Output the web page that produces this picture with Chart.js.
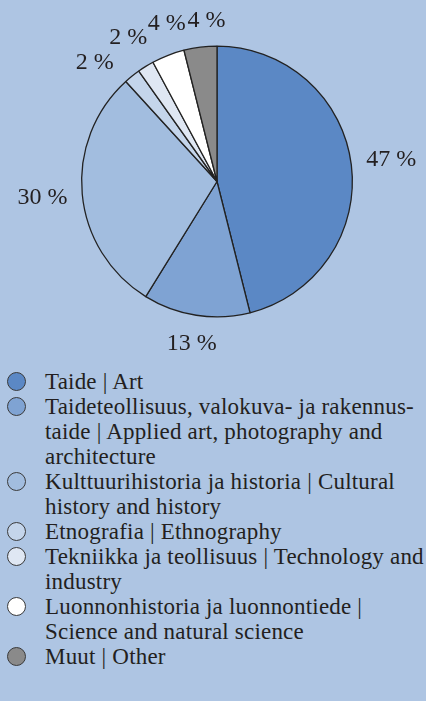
<!DOCTYPE html>
<html>
<head>
<meta charset="utf-8">
<script src="https://cdn.jsdelivr.net/npm/chart.js@4/dist/chart.umd.min.js"></script>
<style>
  html, body { margin: 0; padding: 0; background: #aec5e3; }
  body { width: 426px; height: 701px; overflow: hidden; position: relative; font-family: "Liberation Serif", "Times New Roman", serif; }
  #wrap { position: absolute; left: 0; top: 0; width: 426px; height: 365px; }
  #legend { position: absolute; left: 0; top: 369px; width: 440px; margin: 0; padding: 0; list-style: none; }
  #legend li { position: relative; padding-left: 45px; font-size: 23px; letter-spacing: 0.2px; line-height: 25px; color: #231f20; white-space: nowrap; }
  #legend .mk { position: absolute; left: 7px; top: 3px; width: 19px; height: 19px; border-radius: 50%; border: 1.2px solid #3a3a3a; box-sizing: border-box; }
</style>
</head>
<body>
<div id="wrap"><canvas id="c"></canvas></div>
<ul id="legend"></ul>
<script>
const categories = [
  ["Taide | Art"],
  ["Taideteollisuus, valokuva- ja rakennus-", "taide | Applied art, photography and", "architecture"],
  ["Kulttuurihistoria ja historia | Cultural", "history and history"],
  ["Etnografia | Ethnography"],
  ["Tekniikka ja teollisuus | Technology and", "industry"],
  ["Luonnonhistoria ja luonnontiede |", "Science and natural science"],
  ["Muut | Other"]
];
const values = [47, 13, 30, 2, 2, 4, 4];
const valueLabels = ["47 %", "13 %", "30 %", "2 %", "2 %", "4 %", "4 %"];
const colors = ["#5b88c5", "#7fa3d3", "#a2bddf", "#c4d5eb", "#dfe7f3", "#ffffff", "#8a8a8a"];

const outsideLabels = {
  id: 'outsideLabels',
  afterDatasetsDraw(chart, args, opts) {
    const ctx = chart.ctx;
    const meta = chart.getDatasetMeta(0);
    const gap = opts.gap, minSep = opts.minSep * Math.PI / 180;
    ctx.save();
    ctx.font = opts.font;
    ctx.fillStyle = '#231f20';
    ctx.textAlign = 'center';
    ctx.textBaseline = 'middle';
    // label angles start at slice middles, then relax apart where crowded
    const ang = meta.data.map(a => (a.startAngle + a.endAngle) / 2);
    for (let it = 0; it < 200; it++) {
      for (let i = 0; i < ang.length - 1; i++) {
        const d = ang[i + 1] - ang[i];
        if (d < minSep) {
          const p = (minSep - d) / 2;
          ang[i] -= p; ang[i + 1] += p;
        }
      }
    }
    const hh = opts.halfHeight;
    meta.data.forEach((arc, i) => {
      const a = ang[i];
      const c = Math.cos(a), s = Math.sin(a);
      const hw = ctx.measureText(valueLabels[i]).width / 2;
      const r = arc.outerRadius + gap + Math.abs(c) * hw + Math.abs(s) * hh;
      ctx.fillText(valueLabels[i], arc.x + c * r, arc.y + s * r);
    });
    ctx.restore();
  }
};

new Chart(document.getElementById('c'), {
  type: 'pie',
  data: {
    labels: categories.map(l => l.join(' ')),
    datasets: [{
      data: values,
      backgroundColor: colors,
      borderColor: '#222222',
      borderWidth: 1.3
    }]
  },
  options: {
    responsive: true,
    maintainAspectRatio: false,
    animation: false,
    layout: { padding: { top: 45, bottom: 47, left: 81, right: 73 } },
    plugins: {
      legend: { display: false },
      tooltip: { enabled: false },
      outsideLabels: { font: '24px "Liberation Serif", serif', gap: 14, minSep: 14, halfHeight: 11 }
    }
  },
  plugins: [outsideLabels]
});

const ul = document.getElementById('legend');
categories.forEach((lines, i) => {
  const li = document.createElement('li');
  const mk = document.createElement('span');
  mk.className = 'mk';
  mk.style.background = colors[i];
  li.appendChild(mk);
  lines.forEach((t, j) => {
    if (j > 0) li.appendChild(document.createElement('br'));
    li.appendChild(document.createTextNode(t));
  });
  ul.appendChild(li);
});
</script>
</body>
</html>
